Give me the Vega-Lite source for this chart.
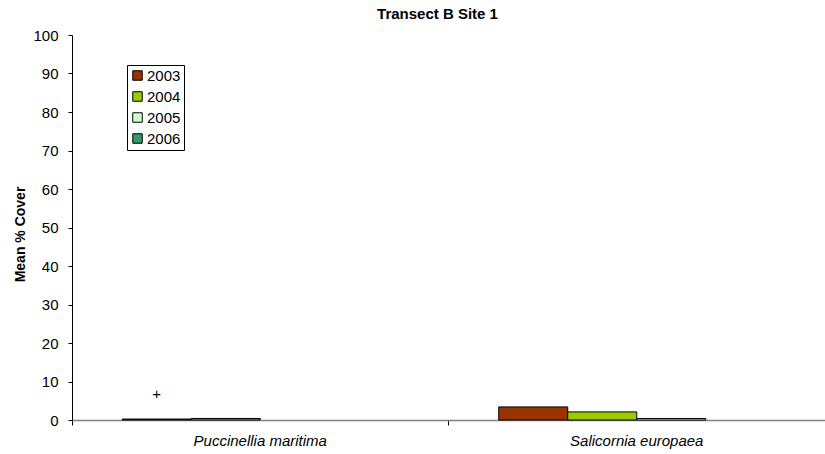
{
  "$schema": "https://vega.github.io/schema/vega-lite/v6.json",
  "autosize": "none",
  "padding": {"left": 72, "top": 35, "right": 0, "bottom": 34},
  "width": 753,
  "height": 385,
  "background": "white",
  "config": {
    "view": {"stroke": null},
    "font": "Liberation Sans",
    "axisY": {"labelOverlap": false}
  },
  "title": {
    "text": "Transect B Site 1",
    "font": "Liberation Sans",
    "fontSize": 15,
    "fontWeight": "bold",
    "color": "black",
    "anchor": "middle",
    "baseline": "alphabetic",
    "offset": 0,
    "dy": 6,
    "dx": -11
  },
  "datasets": {
    "cover": [
      {"species": "Puccinellia maritima", "year": "2003", "value": 0.25},
      {"species": "Puccinellia maritima", "year": "2004", "value": 0.4},
      {"species": "Puccinellia maritima", "year": "2005", "value": 0},
      {"species": "Puccinellia maritima", "year": "2006", "value": 0},
      {"species": "Salicornia europaea", "year": "2003", "value": 3.4},
      {"species": "Salicornia europaea", "year": "2004", "value": 2.1},
      {"species": "Salicornia europaea", "year": "2005", "value": 0.4},
      {"species": "Salicornia europaea", "year": "2006", "value": 0}
    ],
    "marks": [
      {"species": "Puccinellia maritima", "year": "2003", "value": 6.8, "label": "+"}
    ]
  },
  "encoding": {
    "x": {
      "field": "species",
      "type": "nominal",
      "sort": null,
      "scale": {"paddingInner": 0, "paddingOuter": 0},
      "axis": {
        "title": null,
        "labelAngle": 0,
        "labelFontSize": 15,
        "labelFontStyle": "italic",
        "labelColor": "black",
        "labelPadding": 8,
        "bandPosition": 0,
        "tickSize": 5,
        "tickColor": "black",
        "domainColor": "#808080",
        "domainWidth": 1.5,
        "grid": false
      }
    },
    "xOffset": {
      "field": "year",
      "type": "nominal",
      "scale": {"domain": ["2003", "2004", "2005", "2006"], "paddingInner": 0, "paddingOuter": 0.728}
    },
    "y": {
      "field": "value",
      "type": "quantitative",
      "scale": {"domain": [0, 100], "nice": false},
      "axis": {
        "title": "Mean % Cover",
        "titleFontSize": 14,
        "titleFontWeight": "bold",
        "titleColor": "black",
        "titleBaseline": "middle",
        "titleAnchor": "middle",
        "titleX": -52,
        "titleY": 199,
        "values": [0, 10, 20, 30, 40, 50, 60, 70, 80, 90, 100],
        "tickCount": 12,
        "labelOverlap": false,
        "labelFontSize": 15,
        "labelColor": "black",
        "labelPadding": 10,
        "tickSize": 4,
        "tickColor": "black",
        "domainColor": "black",
        "grid": false
      }
    }
  },
  "layer": [
    {
      "data": {"name": "cover"},
      "mark": {"type": "bar", "stroke": "black", "strokeWidth": 1},
      "encoding": {
        "fill": {
          "field": "year",
          "type": "nominal",
          "scale": {
            "domain": ["2003", "2004", "2005", "2006"],
            "range": ["#993300", "#99CC00", "#CCFFCC", "#339966"]
          },
          "legend": {
            "title": null,
            "orient": "none",
            "legendX": 55,
            "legendY": 30,
            "symbolType": "square",
            "symbolSize": 90,
            "symbolStrokeColor": "black",
            "symbolStrokeWidth": 1,
            "labelFontSize": 15,
            "labelColor": "black",
            "labelOffset": 2,
            "rowPadding": 5,
            "padding": 3,
            "strokeColor": "black",
            "fillColor": "white"
          }
        },
        "strokeOpacity": {
          "condition": {"test": "datum.value > 0", "value": 1},
          "value": 0
        }
      }
    },
    {
      "data": {"name": "marks"},
      "mark": {"type": "text", "fontSize": 15, "color": "black", "baseline": "middle", "align": "center"},
      "encoding": {
        "text": {"field": "label"}
      }
    }
  ]
}
